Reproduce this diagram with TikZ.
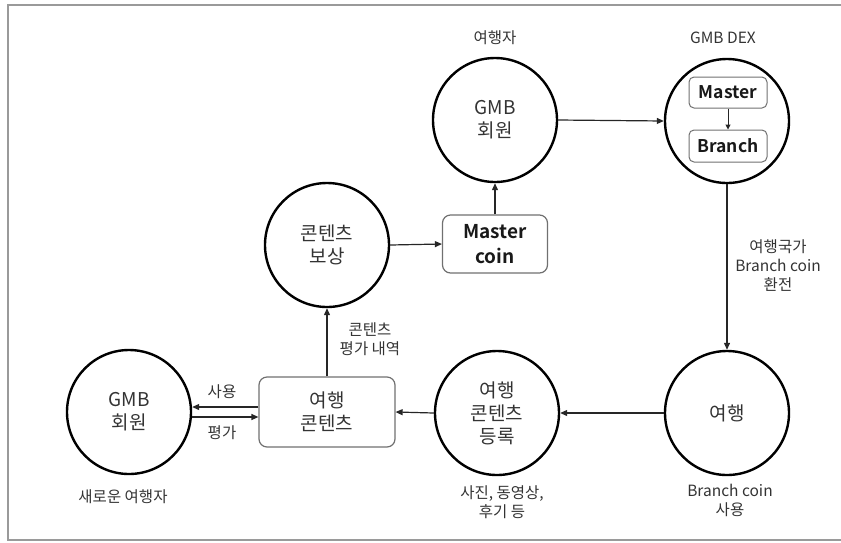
\documentclass[tikz,border=0pt]{standalone}
\usepackage{fontspec}
\setmainfont{Noto Sans CJK KR}[BoldFont={Noto Sans CJK KR Bold}]
\usetikzlibrary{arrows.meta}
\definecolor{txt}{HTML}{333333}
\definecolor{boxline}{HTML}{707070}
\definecolor{framec}{HTML}{9A9A9A}
\tikzset{
  circ/.style={circle,draw=black,line width=2.4pt,minimum size=124pt,inner sep=0pt,
    align=center,text=txt,font=\fontsize{19}{23}\selectfont},
  rbox/.style={rectangle,rounded corners=8pt,draw=boxline,line width=1.2pt,inner sep=0pt,
    align=center,font=\fontsize{19}{23}\selectfont},
  ibox/.style={rectangle,rounded corners=5pt,draw=boxline,line width=1pt,inner sep=0pt,
    minimum width=78pt,font=\bfseries\fontsize{17.5}{20}\selectfont,text=black!90},
  lbl/.style={align=center,text=txt,font=\fontsize{15.5}{19}\selectfont,inner sep=0pt},
  arr/.style={draw=black!85,line width=1.2pt,-{Triangle[length=7pt,width=6pt]}},
}
\begin{document}
\begin{tikzpicture}[x=1pt,y=-1pt]
\useasboundingbox (0,0) rectangle (841,542);
% frame
\draw[framec,line width=2pt] (841,5) -- (8,5) -- (8,540) -- (841,540);

% nodes
\node[circ] (m1) at (495,120) {GMB\\회원};
\node[circ] (dex) at (727,121) {};
\node[ibox,minimum height=31pt] (master) at (728,92.5) {Master};
\node[ibox,minimum height=32pt] (branch) at (728,146) {Branch};
\node[circ] (reward) at (327,245) {콘텐츠\\보상};
\node[rbox,minimum width=105pt,minimum height=58pt,font=\bfseries\fontsize{19}{25}\selectfont,text=black!90] (mcoin) at (495,244) {Master\\coin};
\node[circ] (m2) at (129,412) {GMB\\회원};
\node[rbox,minimum width=136pt,minimum height=70pt,text=txt] (content) at (327,412) {여행\\콘텐츠};
\node[circ] (reg) at (497,413) {여행\\콘텐츠\\등록};
\node[circ] (trip) at (727,413) {여행};

% labels
\node[lbl] (l1) at (495,38) {여행자};
\node[lbl] (l2) at (723,38) {GMB DEX};
\node[lbl] (l3) at (778,266) {여행국가\\Branch coin\\환전};
\node[lbl] (l4) at (370,339) {콘텐츠\\평가 내역};
\node[lbl] (l5) at (222,392) {사용};
\node[lbl] (l6) at (222,433) {평가};
\node[lbl] (l7) at (123,497) {새로운 여행자};
\node[lbl] (l8) at (502,502) {사진, 동영상,\\후기 등};
\node[lbl] (l9) at (730,500) {Branch coin\\사용};

% connectors
\draw[arr] (m1.east) -- (dex.west);
\draw[arr,line width=1pt,-{Triangle[length=5pt,width=5pt]}] (master.south) -- (branch.north);
\draw[arr] (mcoin.north) -- (m1.south);
\draw[arr] (reward.east) -- (mcoin.west);
\draw[arr] (content.north) -- (reward.south);
\draw[arr] (dex.south) -- (trip.north);
\draw[arr] (trip.west) -- (reg.east);
\draw[arr] (reg.west) -- (content.east);
\draw[arr] ([yshift=5pt]content.west) -- ([yshift=5pt]m2.east);
\draw[arr] ([yshift=-5pt]m2.east) -- ([yshift=-5pt]content.west);
\end{tikzpicture}
\end{document}
